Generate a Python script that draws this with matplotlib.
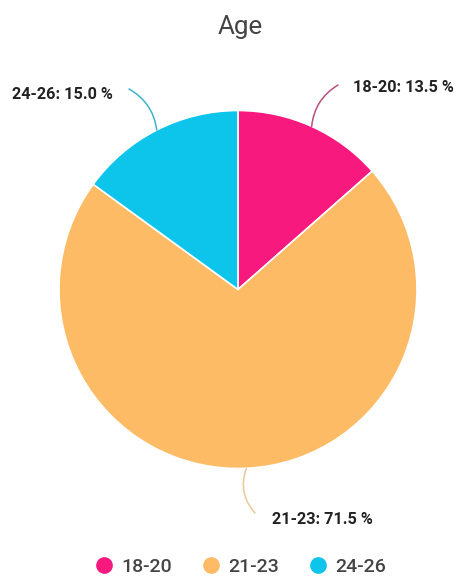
import numpy as np
import matplotlib
matplotlib.use("Agg")
import matplotlib.pyplot as plt
from matplotlib.lines import Line2D

categories = ["18-20", "21-23", "24-26"]
values = [13.5, 71.5, 15.0]
colors = ["#F7197E", "#FDBB66", "#0DC4EB"]
line_colors = ["#B8507F", "#EAC998", "#3FB2C9"]
title = "Age"

plt.rcParams['font.family'] = ['Roboto', 'DejaVu Sans']

W, H = 456, 577
fig = plt.figure(figsize=(W / 100, H / 100), dpi=100)
cx, cy, R = 238, 289.5, 179
ax = fig.add_axes([(cx - R) / W, (H - cy - R) / H, 2 * R / W, 2 * R / H])

wedges, _ = ax.pie(values, colors=colors, startangle=90, counterclock=False,
                   radius=1, wedgeprops=dict(edgecolor='white', linewidth=1.2))
ax.set_xlim(-1, 1)
ax.set_ylim(-1, 1)
ax.set_aspect('equal')
ax.axis('off')

def d(px, py):
    return ((px - cx) / R, (cy - py) / R)

# label layout: (leader end px, text anchor px, ha, rad)
layout = [
    ((338, 85), (353, 87), 'left', -0.25),
    ((255, 513), (272, 519), 'left', 0.3),
    ((129, 89), (113, 94), 'right', 0.25),
]

for w, cat, val, lc, (lend, tpos, ha, rad) in zip(wedges, categories, values, line_colors, layout):
    ang = np.deg2rad((w.theta1 + w.theta2) / 2)
    start = (np.cos(ang), np.sin(ang))
    ax.annotate("", xy=d(*lend), xytext=start,
                arrowprops=dict(arrowstyle='-', color=lc, lw=1.1,
                                shrinkA=0, shrinkB=0,
                                connectionstyle=f"arc3,rad={rad}"),
                annotation_clip=False)
    tx, ty = d(*tpos)
    ax.text(tx, ty, f"{cat}: {val:.1f} %", ha=ha, va='center', fontsize=11.7,
            fontweight='bold', color='#222222', clip_on=False)

fig.text(240 / W, 1 - 27 / H, title, ha='center', va='center', fontsize=18.7,
         color='#444444')

handles = [Line2D([0], [0], marker='o', linestyle='none', markersize=11,
                  markerfacecolor=c, markeredgecolor=c) for c in colors]
leg = fig.legend(handles, categories, loc='center', ncol=3,
                 bbox_to_anchor=(240 / W, 1 - 567 / H), frameon=False,
                 handletextpad=0.4, columnspacing=1.5, handlelength=1.0,
                 prop=dict(family=['Roboto', 'DejaVu Sans'], size=14, weight='medium'))
for t in leg.get_texts():
    t.set_color('#444444')

fig.savefig("out.png", dpi=100, facecolor='white')
